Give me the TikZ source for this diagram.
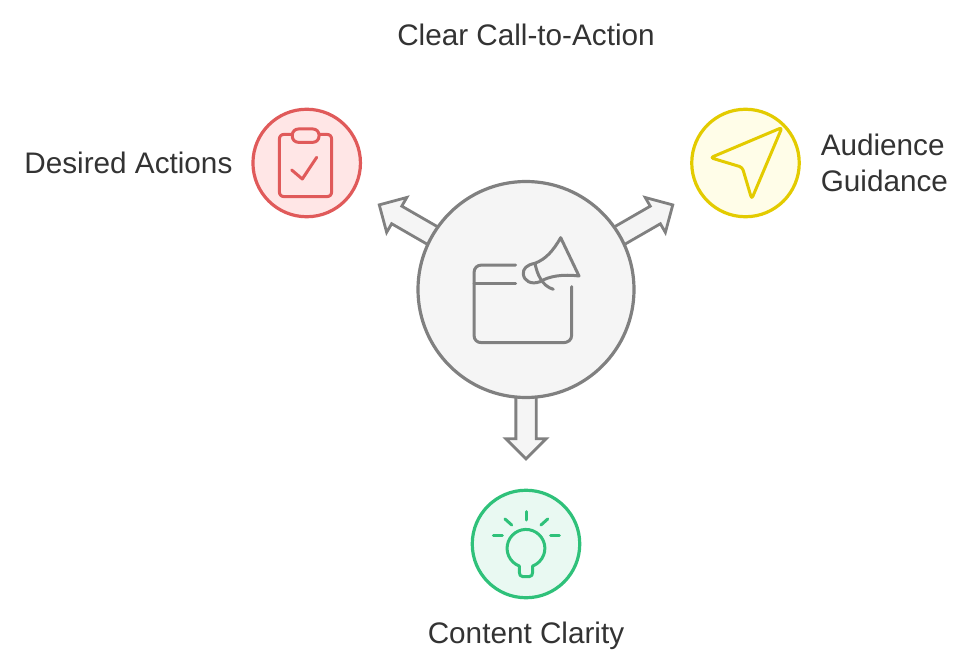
\documentclass[tikz,border=0pt]{standalone}
\usepackage{fontspec}
\setmainfont{Liberation Sans}
\usepackage{xcolor}
\usepackage{tikz}
\usetikzlibrary{positioning, shapes.arrows, backgrounds}

\definecolor{hubline}{HTML}{808080}
\definecolor{hubfill}{HTML}{F5F5F5}
\definecolor{redline}{HTML}{E05A5A}
\definecolor{redfill}{HTML}{FFE6E6}
\definecolor{yellowline}{HTML}{E3CB00}
\definecolor{yellowfill}{HTML}{FFFDE8}
\definecolor{greenline}{HTML}{2FC17A}
\definecolor{greenfill}{HTML}{E9F9F2}
\definecolor{labeltext}{HTML}{333333}

\tikzset{
  disc/.style={circle, draw, outer sep=0pt, line width=3.2pt},
  spoke/.style={disc, minimum size=107.5pt},
  label text/.style={text=labeltext, font=\fontsize{29.7}{36}\selectfont},
  blockarrow/.style={single arrow, draw=hubline, fill=hubfill, line width=2.8pt,
    inner xsep=0pt, inner ysep=8.75pt, minimum height=168pt,
    single arrow head extend=10pt, single arrow tip angle=90,
    sloped, allow upside down, pos=0, anchor=tail},
  glyph/.style={line width=3pt, line cap=round, line join=round}
}

\begin{document}
\begin{tikzpicture}[x=1pt, y=-1pt]
\useasboundingbox (0,0) rectangle (980,671);

\node(hub)[disc, draw=hubline, fill=hubfill, minimum size=216pt] at (526,289.5){};
\node(actions)[spoke, draw=redline, fill=redfill] at (306.7,163){};
\node(guidance)[spoke, draw=yellowline, fill=yellowfill] at (745.5,163){};
\node(clarity)[spoke, draw=greenline, fill=greenfill] at (526,544){};

\begin{scope}[on background layer]
\path (hub.center) -- (actions.center) node(toactions)[blockarrow]{};
\path (hub.center) -- (guidance.center) node(toguidance)[blockarrow]{};
\path (hub.center) -- (clarity.center) node(toclarity)[blockarrow]{};
\end{scope}

\node(cta)[label text] at (526,35){Clear Call-to-Action};
\node(actionstext)[label text, left = 17pt of actions]{Desired Actions};
\node(guidancetext)[label text, right = 18pt of guidance, align=left]{Audience\\Guidance};
\node(claritytext)[label text, below = 21pt of clarity]{Content Clarity};

% window and megaphone
\draw[glyph, hubline] (515.7,265) -- (482,265) .. controls (477,265) and (474,268) .. (474,273)
  -- (474,335) .. controls (474,340) and (477,342.7) .. (482,342.7)
  -- (563,342.7) .. controls (568,342.7) and (571.7,340) .. (571.7,335) -- (571.7,286.7);
\draw[glyph, hubline] (474,283.3) -- (515.7,283.3);
\draw[glyph, hubline] (560.7,237.7) .. controls (553,251) and (546,259) .. (535,263.3)
  .. controls (526,265) and (523,269) .. (523.3,274)
  .. controls (524,281) and (531,285) .. (540,281.7)
  .. controls (549,276) and (563,274) .. (579,276) -- cycle;
\draw[glyph, hubline] (535,263.3) .. controls (537,274) and (542,286) .. (553.3,289.3);

% clipboard
\draw[glyph, redline] (285,134.3) -- (326,134.3) .. controls (330,134.3) and (331.7,136) .. (331.7,140)
  -- (331.7,191) .. controls (331.7,195) and (330,196.7) .. (326,196.7)
  -- (285,196.7) .. controls (281,196.7) and (279.3,195) .. (279.3,191)
  -- (279.3,140) .. controls (279.3,136) and (281,134.3) .. (285,134.3) -- cycle;
\draw[glyph, redline, fill=redfill, rounded corners=6pt] (292.3,129) rectangle (319,142.3);
\draw[glyph, redline] (291.7,170) -- (302.3,179) -- (316.7,157.3);

% pointer
\draw[glyph, yellowline, rounded corners=3pt] (782,127.5) -- (710.5,157.7) -- (742.3,167.3)
  -- (751.7,199) -- cycle;

% bulb
\draw[glyph, greenline] (519.3,566) arc[start angle=110.7, end angle=429.3, radius=18.9]
  -- (532.7,572) .. controls (532.7,575) and (531.5,576.7) .. (529,576.7)
  -- (523,576.7) .. controls (520.5,576.7) and (519.3,575) .. (519.3,572) -- cycle;
\draw[glyph, greenline] (526,511.7) -- (526,520);
\draw[glyph, greenline] (505,519) -- (511.7,525);
\draw[glyph, greenline] (547.7,519) -- (541,525);
\draw[glyph, greenline] (493.3,535) -- (502.3,535);
\draw[glyph, greenline] (550.7,535) -- (559.3,535);
\end{tikzpicture}
\end{document}
